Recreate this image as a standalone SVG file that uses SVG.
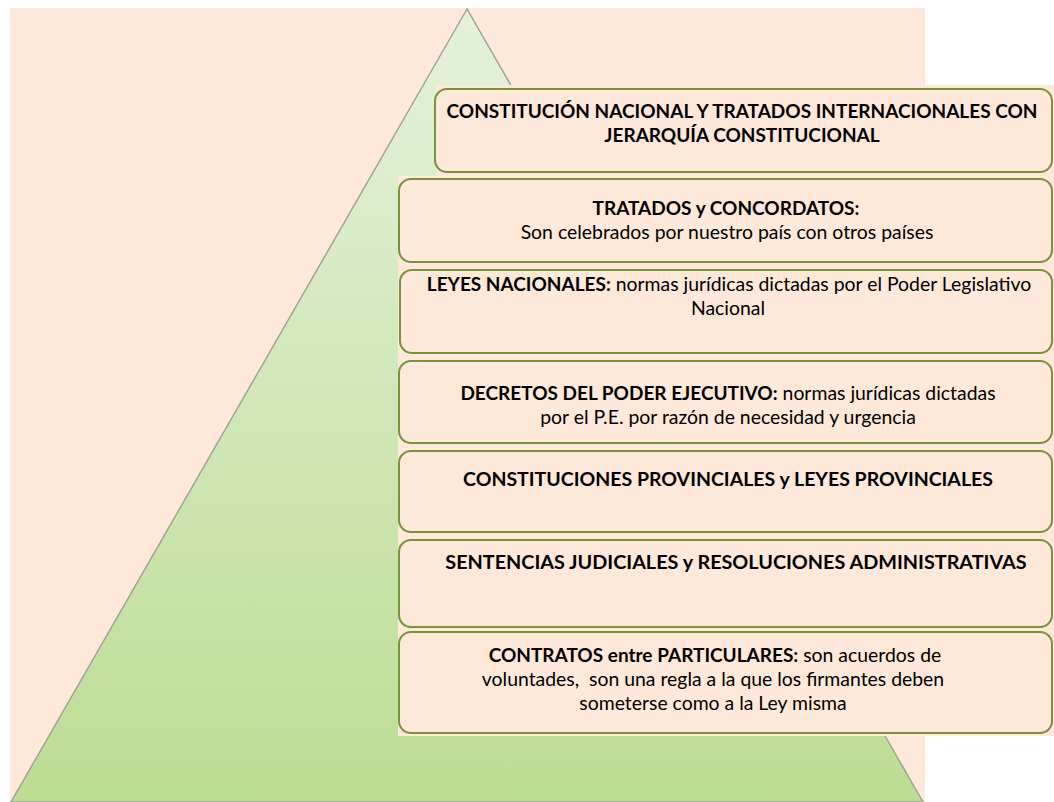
<svg xmlns="http://www.w3.org/2000/svg" width="1054" height="802" viewBox="0 0 1054 802">
<defs>
<linearGradient id="tri" x1="0" y1="0" x2="0" y2="1">
<stop offset="0" stop-color="#e5f1dc"/>
<stop offset="1" stop-color="#bcdd93"/>
</linearGradient>
<style>
.bg{fill:#fde8d9}
.box{fill:#fde8d9;stroke:#77933c;stroke-width:2}
text{font-family:Lato,"Liberation Sans",sans-serif;font-size:19.4px;fill:#000;text-anchor:middle;white-space:pre}
.b{font-weight:bold;font-size:19px}
</style>
</defs>
<rect width="1054" height="802" fill="#ffffff"/>
<rect class="bg" x="10" y="8" width="915" height="794"/>
<polygon points="467,9 11,802 923,802" fill="url(#tri)" stroke="#9ea596" stroke-width="1.5"/>
<rect class="bg" x="437" y="85" width="617" height="92"/>
<rect class="bg" x="398" y="176" width="656" height="560"/>
<g id="connectors"></g>
<g id="n1">
<rect class="box" x="435" y="89" width="617" height="83" rx="12"/>
<text class="b" x="742" y="118">CONSTITUCIÓN NACIONAL Y TRATADOS INTERNACIONALES CON</text>
<text class="b" x="742" y="142">JERARQUÍA CONSTITUCIONAL</text>
</g>
<g id="n2">
<rect class="box" x="399" y="179" width="653" height="83" rx="12"/>
<text class="b" x="726" y="215">TRATADOS y CONCORDATOS:</text>
<text x="727" y="239">Son celebrados por nuestro país con otros países</text>
</g>
<g id="n3">
<rect class="box" x="400" y="270" width="652" height="83" rx="12"/>
<text x="729" y="291"><tspan class="b">LEYES NACIONALES:</tspan> normas jurídicas dictadas por el Poder Legislativo</text>
<text x="728" y="315">Nacional</text>
</g>
<g id="n4">
<rect class="box" x="399" y="361" width="653" height="82" rx="12"/>
<text x="728" y="400"><tspan class="b">DECRETOS DEL PODER EJECUTIVO:</tspan> normas jurídicas dictadas</text>
<text x="728" y="424">por el P.E. por razón de necesidad y urgencia</text>
</g>
<g id="n5">
<rect class="box" x="399" y="451" width="653" height="81" rx="12"/>
<text class="b" x="728" y="486" style="font-size:19.5px">CONSTITUCIONES PROVINCIALES y LEYES PROVINCIALES</text>
</g>
<g id="n6">
<rect class="box" x="399" y="540" width="653" height="87" rx="12"/>
<text class="b" x="736" y="569" style="font-size:19.8px">SENTENCIAS JUDICIALES y RESOLUCIONES ADMINISTRATIVAS</text>
</g>
<g id="n7">
<rect class="box" x="399" y="632" width="653" height="101" rx="12"/>
<text x="715" y="662"><tspan class="b">CONTRATOS entre PARTICULARES:</tspan> son acuerdos de</text>
<text x="713" y="686">voluntades,  son una regla a la que los firmantes deben</text>
<text x="713" y="710">someterse como a la Ley misma</text>
</g>
</svg>
